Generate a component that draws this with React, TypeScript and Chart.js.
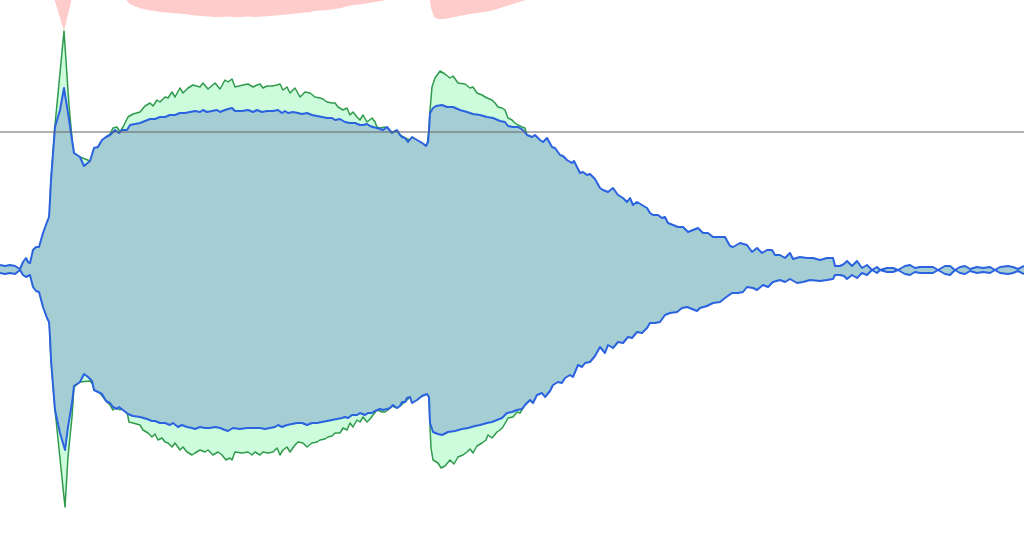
import React, { useEffect, useRef } from "react";
import { Chart, registerables } from "chart.js";

Chart.register(...registerables);

// Each entry: [time sample, amplitude]
const blueUpper: [number, number][] = [
  [0, 5], [5, 4], [10, 5], [15, 4], [20, 1], [23, 8], [26, 12], [28, 8], [30, 7], [33, 20], [36, 23], [39, 23],
  [43, 37], [47, 48], [49, 53], [50, 70], [51, 90], [55, 143], [60, 160], [64, 182], [68, 157], [74, 117],
  [80, 113], [84, 104], [90, 109], [94, 122], [98, 123], [102, 130], [106, 133], [110, 135], [115, 140],
  [119, 137], [122, 140], [127, 140], [130, 145], [135, 146], [140, 147], [145, 149], [150, 151], [155, 151],
  [160, 153], [165, 153], [170, 155], [175, 155], [180, 157], [185, 157], [190, 158], [195, 159], [200, 158],
  [203, 160], [207, 158], [212, 159], [217, 160], [220, 158], [225, 160], [228, 161], [232, 162], [235, 159],
  [242, 159], [248, 160], [253, 158], [257, 160], [262, 158], [267, 159], [273, 159], [278, 160], [282, 157],
  [285, 159], [288, 157], [293, 158], [298, 157], [302, 156], [307, 157], [312, 155], [317, 154], [322, 153],
  [327, 152], [332, 152], [335, 150], [340, 151], [345, 148], [350, 147], [355, 147], [360, 145], [363, 145],
  [367, 146], [370, 144], [373, 143], [377, 142], [380, 141], [383, 140], [387, 143], [392, 137], [397, 140],
  [400, 135], [402, 133], [405, 132], [408, 128], [412, 133], [417, 130], [422, 127], [426, 124], [428, 128],
  [429, 140], [430, 157], [433, 162], [436, 164], [442, 165], [447, 163], [453, 163], [460, 160], [467, 158],
  [473, 156], [480, 155], [487, 153], [493, 152], [500, 149], [505, 148], [508, 144], [513, 143], [518, 143],
  [523, 140], [527, 135], [532, 133], [535, 135], [540, 130], [543, 128], [547, 132], [552, 123], [555, 122],
  [560, 115], [563, 114], [567, 110], [572, 107], [574, 109], [577, 103], [580, 97], [583, 98], [587, 95],
  [590, 96], [595, 91], [600, 82], [603, 80], [608, 78], [613, 82], [618, 75], [623, 72], [627, 68], [630, 72],
  [633, 65], [637, 68], [642, 65], [647, 62], [650, 57], [653, 55], [658, 55], [662, 52], [665, 53], [668, 47],
  [673, 45], [678, 43], [683, 43], [688, 38], [693, 40], [698, 42], [703, 37], [708, 37], [713, 33], [720, 33],
  [725, 33], [730, 24], [733, 23], [740, 27], [747, 25], [752, 18], [757, 22], [762, 17], [767, 20], [772, 20],
  [775, 15], [780, 15], [785, 12], [790, 17], [793, 11], [800, 13], [807, 12], [813, 12], [820, 10], [827, 12],
  [833, 12], [835, 4], [840, 4], [844, 6], [847, 9], [852, 4], [857, 9], [862, 2], [867, 5], [872, 0], [877, 3],
  [880, 0], [887, 2], [893, 2], [898, 0], [905, 4], [910, 5], [915, 2], [920, 3], [925, 3], [933, 3], [938, 0],
  [945, 4], [950, 4], [955, 0], [960, 3], [965, 4], [970, 1], [977, 3], [983, 2], [990, 3], [995, 0], [1000, 3],
  [1008, 4], [1013, 3], [1018, 1], [1024, 4],
];

const blueLower: [number, number][] = [
  [0, -3], [5, -4], [10, -3], [15, -4], [20, 0], [23, -5], [26, -7], [30, -5], [33, -17], [36, -21], [39, -22],
  [43, -37], [47, -48], [49, -52], [50, -67], [51, -90], [55, -140], [60, -163], [65, -180], [68, -157],
  [72, -133], [74, -116], [80, -112], [84, -104], [88, -107], [92, -111], [94, -120], [98, -122], [102, -124],
  [106, -131], [110, -133], [113, -137], [117, -139], [119, -137], [123, -140], [128, -144], [133, -146],
  [140, -147], [147, -149], [152, -151], [155, -151], [160, -153], [165, -153], [170, -155], [173, -153],
  [178, -157], [182, -155], [187, -157], [192, -158], [195, -159], [200, -157], [205, -158], [210, -158],
  [215, -157], [220, -158], [225, -160], [228, -161], [233, -158], [240, -159], [247, -158], [253, -158],
  [260, -158], [265, -159], [270, -158], [275, -157], [278, -155], [282, -157], [287, -155], [292, -154],
  [297, -153], [302, -153], [307, -155], [312, -153], [317, -153], [322, -152], [327, -151], [332, -150],
  [337, -149], [342, -148], [345, -147], [348, -148], [352, -145], [357, -145], [360, -143], [365, -145],
  [368, -143], [372, -143], [375, -141], [380, -139], [383, -140], [387, -139], [390, -138], [393, -135],
  [397, -138], [400, -136], [402, -132], [405, -132], [407, -128], [410, -127], [412, -133], [417, -130],
  [422, -126], [427, -124], [429, -127], [430, -153], [433, -162], [438, -164], [442, -165], [448, -162],
  [455, -161], [462, -159], [468, -158], [475, -156], [480, -155], [487, -153], [492, -152], [497, -150],
  [502, -148], [507, -143], [512, -142], [517, -140], [522, -139], [525, -135], [530, -130], [533, -133],
  [537, -125], [542, -123], [545, -127], [550, -121], [553, -115], [558, -112], [562, -113], [565, -108],
  [570, -105], [573, -107], [578, -95], [582, -97], [585, -93], [590, -92], [595, -86], [600, -77], [605, -83],
  [608, -75], [613, -78], [618, -72], [623, -73], [628, -67], [632, -68], [637, -62], [642, -63], [647, -58],
  [650, -53], [655, -53], [660, -52], [665, -45], [670, -43], [677, -42], [682, -38], [687, -37], [692, -39],
  [697, -41], [700, -38], [707, -36], [713, -33], [720, -32], [725, -28], [732, -23], [738, -23], [743, -22],
  [747, -17], [753, -18], [757, -20], [763, -15], [768, -17], [773, -12], [780, -10], [785, -12], [790, -9],
  [797, -13], [803, -12], [810, -10], [820, -11], [827, -10], [833, -9], [835, -5], [840, -5], [844, -6],
  [847, -9], [852, -5], [857, -8], [862, -3], [867, -5], [872, 0], [877, -3], [880, 0], [887, -2], [893, -2],
  [898, 0], [905, -4], [910, -5], [915, -2], [920, -3], [925, -3], [933, -3], [938, 0], [945, -4], [950, -5],
  [955, 0], [960, -3], [965, -4], [970, -1], [977, -3], [983, -2], [990, -3], [995, 0], [1000, -3], [1008, -4],
  [1013, -3], [1018, -1], [1024, -4],
];

const greenUpper: [number, number][] = [
  [50, 70], [51, 90], [55, 145], [64, 239], [69, 165], [73, 120], [74, 117], [80, 113], [90, 109], [100, 127],
  [106, 133], [110, 136], [113, 142], [117, 143], [120, 138], [123, 143], [128, 153], [133, 156], [140, 158],
  [145, 164], [150, 167], [153, 164], [157, 170], [160, 168], [165, 173], [168, 172], [172, 178], [175, 173],
  [180, 182], [183, 177], [188, 182], [193, 185], [200, 183], [203, 187], [208, 181], [215, 187], [220, 181],
  [225, 190], [228, 188], [232, 191], [235, 183], [243, 185], [248, 186], [253, 183], [257, 185], [260, 186],
  [263, 182], [267, 184], [272, 184], [277, 185], [280, 186], [283, 180], [287, 183], [290, 177], [295, 182],
  [300, 173], [305, 178], [310, 177], [315, 173], [320, 172], [323, 171], [327, 168], [332, 167], [335, 167],
  [338, 163], [343, 160], [347, 162], [350, 155], [353, 158], [357, 153], [360, 150], [363, 155], [367, 148],
  [372, 152], [375, 148], [377, 143], [380, 142], [385, 143], [388, 140], [392, 138], [395, 139], [398, 138],
  [400, 135], [405, 132], [410, 130], [420, 128], [427, 124], [429, 140], [430, 160], [432, 183], [435, 192],
  [440, 199], [445, 196], [450, 192], [453, 194], [458, 187], [465, 186], [470, 182], [473, 183], [477, 177],
  [482, 175], [487, 172], [492, 170], [495, 167], [498, 163], [502, 162], [505, 160], [508, 152], [512, 150],
  [515, 147], [518, 145], [522, 143], [525, 142], [527, 135], [532, 133],
];

const greenLower: [number, number][] = [
  [50, -67], [51, -90], [55, -140], [65, -237], [68, -187], [72, -147], [74, -117], [80, -112], [90, -111],
  [100, -123], [106, -131], [110, -135], [113, -140], [117, -137], [120, -140], [123, -138], [127, -142],
  [129, -152], [133, -153], [140, -155], [143, -160], [148, -163], [152, -167], [155, -164], [158, -170],
  [162, -168], [165, -172], [168, -173], [172, -177], [175, -173], [180, -180], [183, -177], [187, -182],
  [192, -185], [195, -183], [200, -180], [205, -182], [208, -180], [213, -185], [218, -182], [222, -185],
  [226, -190], [230, -188], [232, -190], [235, -182], [242, -183], [248, -182], [252, -185], [255, -182],
  [260, -185], [263, -182], [268, -183], [273, -182], [277, -178], [280, -185], [283, -180], [287, -177],
  [290, -182], [295, -175], [298, -172], [303, -173], [307, -177], [312, -173], [317, -172], [320, -170],
  [325, -169], [328, -167], [332, -166], [335, -163], [340, -163], [343, -158], [347, -160], [350, -153],
  [353, -157], [357, -150], [360, -152], [363, -147], [367, -152], [370, -149], [373, -145], [377, -140],
  [382, -142], [385, -142], [388, -140], [392, -136], [397, -138], [400, -136], [405, -132], [410, -127],
  [417, -130], [422, -126], [427, -124], [429, -127], [430, -157], [431, -178], [433, -190], [438, -193],
  [441, -198], [445, -196], [450, -190], [454, -194], [458, -187], [463, -185], [467, -182], [470, -179],
  [473, -183], [477, -176], [482, -173], [486, -170], [488, -165], [492, -168], [497, -162], [500, -160],
  [503, -157], [508, -148], [513, -147], [517, -142], [520, -143], [523, -138], [525, -135], [530, -130],
];

// Upper clip envelope (values above the top are out of view)
const clipEdge: [number, number][] = [
  [0, 330], [50, 330], [54, 272], [64, 239], [72, 272], [76, 330], [118, 310], [124, 275], [127, 269],
  [130, 266], [134, 264], [137, 263], [141, 261.5], [144, 261], [150, 259.5], [155, 259], [160, 258],
  [166, 257.5], [172, 257], [178, 256.5], [184, 256], [190, 255], [196, 254.5], [201, 254], [208, 253.5],
  [214, 253], [220, 253], [228, 253.5], [234, 252.8], [240, 253], [247, 253.5], [255, 253], [262, 253.5],
  [270, 254], [276, 254.5], [280, 255], [286, 255.5], [291, 256], [296, 256.5], [300, 257], [305, 257.5],
  [309, 257.5], [314, 259], [320, 259.5], [327, 260], [335, 261], [341, 262], [348, 264], [355, 265],
  [363, 266], [369, 267], [375, 268], [381, 269], [386, 270], [392, 280], [425, 320], [429, 275], [431, 262],
  [434, 253], [438, 251], [444, 251], [450, 252], [455, 253], [462, 254.5], [470, 256], [477, 257],
  [485, 258], [492, 259.5], [500, 262], [505, 263.5], [510, 265], [515, 266.5], [519, 268], [526, 270],
  [532, 280], [560, 330], [1024, 330],
];

const thresholdLine: [number, number][] = [[0, 138], [1024, 138]];

const Y_MIN = -273;
const Y_MAX = 270;
const T_MAX = 1024;

const toPts = (arr: [number, number][]) => arr.map(([x, y]) => ({ x, y }));

export default function App() {
  const ref = useRef<HTMLCanvasElement | null>(null);
  useEffect(() => {
    if (!ref.current) return;
    const chart = new Chart(ref.current, {
      type: "line",
      data: {
        datasets: [
          {
            data: toPts(clipEdge),
            borderWidth: 0,
            borderColor: "rgba(0,0,0,0)",
            backgroundColor: "#ffcccc",
            fill: "end",
            pointRadius: 0,
            order: 6,
          },
          {
            data: toPts(greenUpper),
            borderWidth: 1.5,
            borderColor: "#2f9a4c",
            backgroundColor: "#ccfcdc",
            fill: "origin",
            pointRadius: 0,
            borderJoinStyle: "round",
            order: 5,
          },
          {
            data: toPts(greenLower),
            borderWidth: 1.5,
            borderColor: "#2f9a4c",
            backgroundColor: "#ccfcdc",
            fill: "origin",
            pointRadius: 0,
            borderJoinStyle: "round",
            order: 4,
          },
          {
            data: toPts(blueUpper),
            borderWidth: 2,
            borderColor: "#2a62e0",
            backgroundColor: "#a4cdd4",
            fill: "origin",
            pointRadius: 0,
            borderJoinStyle: "round",
            order: 3,
          },
          {
            data: toPts(blueLower),
            borderWidth: 2,
            borderColor: "#2a62e0",
            backgroundColor: "#a4cdd4",
            fill: "origin",
            pointRadius: 0,
            borderJoinStyle: "round",
            order: 2,
          },
          {
            data: toPts(thresholdLine),
            borderWidth: 2,
            borderColor: "rgba(100,100,100,0.5)",
            fill: false,
            pointRadius: 0,
            order: 1,
          },
        ],
      },
      options: {
        animation: false,
        responsive: false,
        devicePixelRatio: 1,
        layout: { padding: 0 },
        elements: { line: { tension: 0 } },
        plugins: { legend: { display: false }, tooltip: { enabled: false } },
        scales: {
          x: { type: "linear", min: 0, max: T_MAX, display: false },
          y: { min: Y_MIN, max: Y_MAX, display: false },
        },
      },
    });
    return () => chart.destroy();
  }, []);
  return (
    <div style={{ position: "fixed", left: 0, top: 0, width: 1024, height: 543, background: "#fff" }}>
      <canvas ref={ref} width={1024} height={543} />
    </div>
  );
}
